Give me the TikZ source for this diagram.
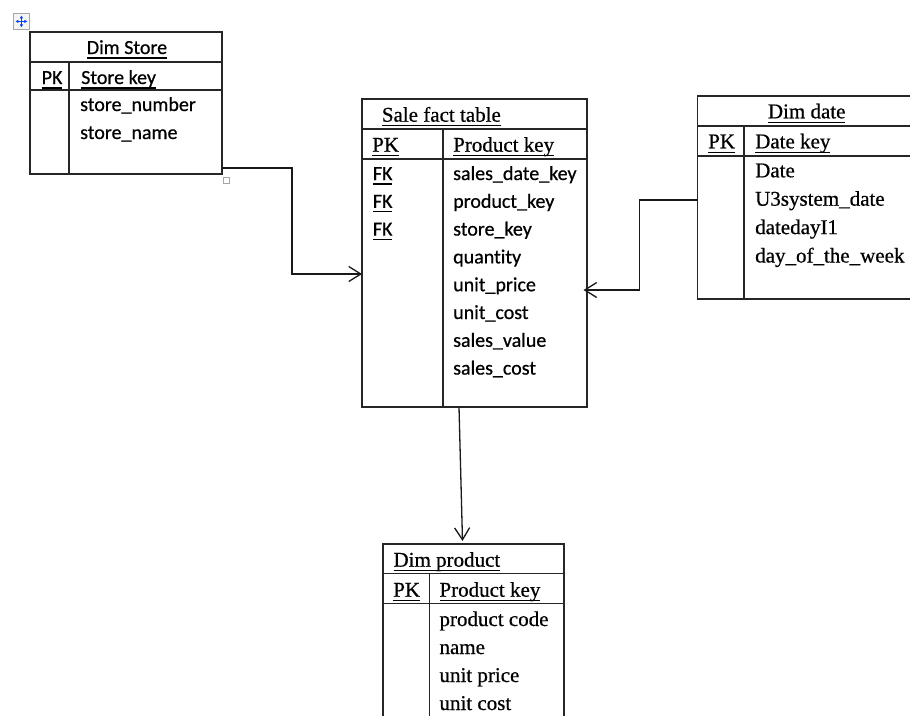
\documentclass[tikz,border=0pt]{standalone}
\usepackage{fontspec}
\setmainfont{Liberation Serif}[RawFeature={embolden=0.6}]
\newfontfamily\calfont{Carlito}[Ligatures=NoCommon, RawFeature={embolden=0.6}]
\usetikzlibrary{arrows.meta}

% underline at a fixed depth below the baseline
\newcommand{\ulx}[1]{\setbox0=\hbox{#1}\rlap{\rule[-4.6pt]{\wd0}{1.3pt}}\box0}

\begin{document}
\begin{tikzpicture}[x=1pt,y=-1pt,
  tbl/.style={draw=black!85, line width=1.4pt, anchor=north west, inner sep=0pt, outer sep=0pt},
  rule/.style={draw=black!85, line width=1.4pt},
  conn/.style={draw=black!90, line width=1.3pt, -{Straight Barb[length=12pt,width=15pt]}},
  sf/.style={anchor=base west, inner sep=0pt, font=\calfont\fontsize{20}{24}\selectfont},
  rm/.style={anchor=base west, inner sep=0pt, font=\fontsize{21}{25}\selectfont},
  handle/.style={draw=gray!70, line width=0.8pt, inner sep=0pt, anchor=north west},
]
\fill[white] (0,0) rectangle (910,715);
\useasboundingbox (0,0) rectangle (910,715);

% editor handles
\node[handle, fill=gray!8, minimum size=16pt] (mv) at (13,13) {};
\draw[blue!75!cyan, line width=0.9pt, {Latex[length=3pt,width=3.5pt]}-{Latex[length=3pt,width=3.5pt]}]
  ([xshift=-6pt]mv.center) -- ([xshift=6pt]mv.center);
\draw[blue!75!cyan, line width=0.9pt, {Latex[length=3pt,width=3.5pt]}-{Latex[length=3pt,width=3.5pt]}]
  ([yshift=-6pt]mv.center) -- ([yshift=6pt]mv.center);
\node[handle, minimum size=6pt] (hd) at (222.5,177) {};

% ---------- Dim Store ----------
\node[tbl, minimum width=192pt, minimum height=142pt] (store) at (30,32) {};
\draw[rule] (30,62) -- (222,62);
\draw[rule] (30,90) -- (222,90);
\draw[rule] (69,62) -- (69,174);
\node[sf, anchor=base] (storeT) at (127,54) {\ulx{Dim Store}};
\node[sf] (storePK) at (41.5,84) {\ulx{PK}};
\node[sf] (storeK) at (81,84) {\ulx{Store key}};
\node[sf] (storeA) at (80,111) {store\_number};
\node[sf] (storeB) at (80,139) {store\_name};

% ---------- Sale fact table ----------
\node[tbl, minimum width=225pt, minimum height=308pt] (fact) at (362,99) {};
\draw[rule] (362,129) -- (587,129);
\draw[rule] (362,159) -- (587,159);
\draw[rule] (443,129) -- (443,407);
\node[rm] (factT) at (381.7,121.7) {\ulx{Sale fact table}};
\node[rm] (factPK) at (372,151.7) {\ulx{PK}};
\node[rm] (factK) at (453,151.7) {\ulx{Product key}};
\node[sf] (fk1) at (372.7,180) {\ulx{FK}};
\node[sf] (fk2) at (372.7,207.8) {\ulx{FK}};
\node[sf] (fk3) at (372.7,235.6) {\ulx{FK}};
\node[sf] (fa) at (453,180) {sales\_date\_key};
\node[sf] (fb) at (453,207.8) {product\_key};
\node[sf] (fc) at (453,235.6) {store\_key};
\node[sf] (fd) at (453,263.4) {quantity};
\node[sf] (fe) at (453,291.2) {unit\_price};
\node[sf] (ff) at (453,319) {unit\_cost};
\node[sf] (fg) at (453,346.8) {sales\_value};
\node[sf] (fh) at (453,374.6) {sales\_cost};

% ---------- Dim date ----------
\node[tbl, minimum width=230pt, minimum height=203pt] (date) at (697.5,96) {};
\draw[rule] (697.5,126) -- (930,126);
\draw[rule] (697.5,156) -- (930,156);
\draw[rule] (744,126) -- (744,299);
\node[rm, anchor=base] (dateT) at (806.7,118.3) {\ulx{Dim date}};
\node[rm] (datePK) at (708,148.3) {\ulx{PK}};
\node[rm] (dateK) at (755,148.3) {\ulx{Date key}};
\node[rm] (da) at (755,177.3) {Date};
\node[rm] (db) at (755,205.7) {U3system\_date};
\node[rm] (dc) at (755,234.1) {datedayI1};
\node[rm] (dd) at (755,262.5) {day\_of\_the\_week};

% ---------- Dim product ----------
\node[tbl, minimum width=181pt, minimum height=190pt] (prod) at (383,544) {};
\draw[rule] (383,573.3) -- (564,573.3);
\draw[rule] (383,603.3) -- (564,603.3);
\draw[rule] (429.3,573.3) -- (429.3,734);
\node[rm] (prodT) at (393.3,566.7) {\ulx{Dim product}};
\node[rm] (prodPK) at (393,596.7) {\ulx{PK}};
\node[rm] (prodK) at (439.3,596.7) {\ulx{Product key}};
\node[rm] (pa) at (439.3,626) {product code};
\node[rm] (pb) at (439.3,654) {name};
\node[rm] (pc) at (439.3,682) {unit price};
\node[rm] (pd) at (439.3,710) {unit cost};

% ---------- connectors ----------
\draw[conn] ([yshift=6pt]store.south east) -- ++(70,0) |- ([yshift=-21pt]fact.west);
\draw[conn] ([yshift=-2.5pt]date.west) -- ++(-58,0) |- ([xshift=-3.5pt,yshift=-37pt]fact.east);
\draw[conn] ([xshift=-15.5pt]fact.south) -- ([xshift=-11pt,yshift=3pt]prod.north);
\end{tikzpicture}
\end{document}
